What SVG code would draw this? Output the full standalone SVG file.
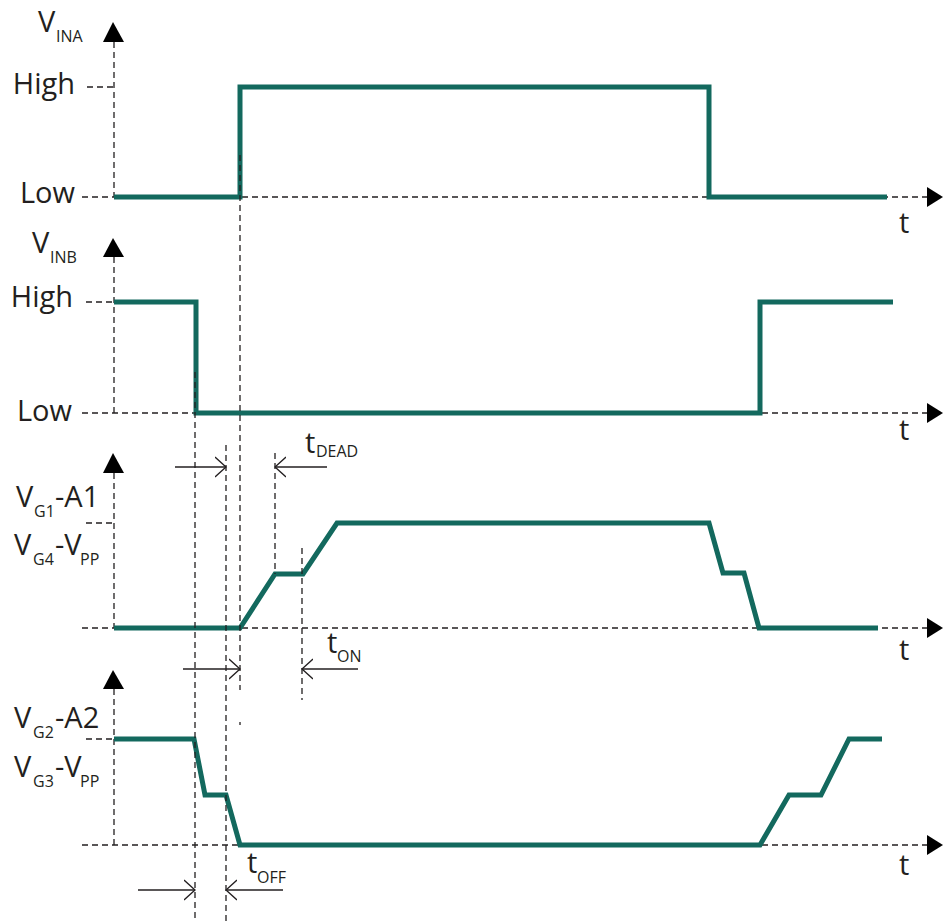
<svg xmlns="http://www.w3.org/2000/svg" width="943" height="921" viewBox="0 0 943 921">
<style>
.dash{fill:none;stroke:#231F20;stroke-width:1.3;stroke-dasharray:6 4}
.wave{fill:none;stroke:#13695E;stroke-width:5;stroke-linejoin:miter;stroke-linecap:butt}
.dim{fill:none;stroke:#231F20;stroke-width:1.3}
.head{fill:#000}
.lbl{font-family:"Open Sans","Noto Sans",sans-serif;font-size:29px;fill:#231F20}
.sub{font-size:16px}
</style>
<defs>
<marker id="open" viewBox="0 0 12 22" refX="11" refY="11" markerWidth="12" markerHeight="22" markerUnits="userSpaceOnUse" orient="auto">
<path d="M0,1 L11,11 L0,21" fill="none" stroke="#231F20" stroke-width="1.3"/>
</marker>
</defs>
<rect width="943" height="921" fill="#fff"/>

<g id="panel-ina">
<path class="dash" d="M114,42V197M87,87H114M82,197H927"/>
<path class="head" d="M113,22L103,42H124Z"/>
<path class="head" d="M927,187L943,197L927,207Z"/>
<path class="wave" d="M114,197H240V87H709V197H887"/>
<text class="lbl"><tspan x="38" y="32">V</tspan><tspan class="sub" x="56" y="42">INA</tspan></text>
<text class="lbl" x="75" y="94" text-anchor="end">High</text>
<text class="lbl" x="75" y="203" text-anchor="end">Low</text>
<text class="lbl" x="899" y="233">t</text>
</g>

<g id="panel-inb">
<path class="dash" d="M114,257V413M86,302H114M82,413H927"/>
<path class="head" d="M113,238L103,257H124Z"/>
<path class="head" d="M927,403L943,413L927,423Z"/>
<path class="wave" d="M114,302H196V413H760V302H893"/>
<text class="lbl"><tspan x="32" y="253">V</tspan><tspan class="sub" x="50" y="263">INB</tspan></text>
<text class="lbl" x="73" y="307" text-anchor="end">High</text>
<text class="lbl" x="72" y="421" text-anchor="end">Low</text>
<text class="lbl" x="899" y="440">t</text>
</g>

<g id="panel-g1">
<path class="dash" d="M114,473V628M86,523H114M82,628H927"/>
<path class="head" d="M113,453L103,473H124Z"/>
<path class="head" d="M927,618L943,628L927,638Z"/>
<path class="wave" d="M114,628H240L275,574H303L337,523H709L723,573H744L759,628H878"/>
<text class="lbl"><tspan x="16" y="507">V</tspan><tspan class="sub" x="34" y="517">G1</tspan><tspan x="55" y="507">-A1</tspan></text>
<text class="lbl"><tspan x="14" y="555">V</tspan><tspan class="sub" x="33" y="565">G4</tspan><tspan x="55" y="555">-V</tspan><tspan class="sub" x="80" y="565">PP</tspan></text>
<text class="lbl" x="899" y="660">t</text>
</g>

<g id="panel-g2">
<path class="dash" d="M114,689V845M86,739H114M82,845H927"/>
<path class="head" d="M113,670L103,689H124Z"/>
<path class="head" d="M927,835L943,845L927,855Z"/>
<path class="wave" d="M114,739H194L205,795H226L240,845H760L789,795H821L849,739H882"/>
<text class="lbl"><tspan x="14" y="728">V</tspan><tspan class="sub" x="33" y="738">G2</tspan><tspan x="55" y="728">-A2</tspan></text>
<text class="lbl"><tspan x="14" y="777">V</tspan><tspan class="sub" x="33" y="787">G3</tspan><tspan x="55" y="777">-V</tspan><tspan class="sub" x="80" y="787">PP</tspan></text>
<text class="lbl" x="899" y="875">t</text>
</g>

<g id="connectors">
<path class="dash" d="M240,155V690M240,722V725M195,372V921M226,445V921M275,453V574M302,548V700"/>
<line class="dim" x1="175" y1="467" x2="226" y2="467" marker-end="url(#open)"/>
<line class="dim" x1="327" y1="467" x2="275" y2="467" marker-end="url(#open)"/>
<line class="dim" x1="183" y1="669" x2="240" y2="669" marker-end="url(#open)"/>
<line class="dim" x1="358" y1="669" x2="302" y2="669" marker-end="url(#open)"/>
<line class="dim" x1="138" y1="890" x2="195" y2="890" marker-end="url(#open)"/>
<line class="dim" x1="283" y1="890" x2="226" y2="890" marker-end="url(#open)"/>
</g>

<g id="timing-labels">
<text class="lbl"><tspan x="305" y="453">t</tspan><tspan class="sub" x="316" y="457">DEAD</tspan></text>
<text class="lbl"><tspan x="327" y="653">t</tspan><tspan class="sub" x="337" y="662">ON</tspan></text>
<text class="lbl"><tspan x="247" y="873">t</tspan><tspan class="sub" x="257" y="883">OFF</tspan></text>
</g>
</svg>
